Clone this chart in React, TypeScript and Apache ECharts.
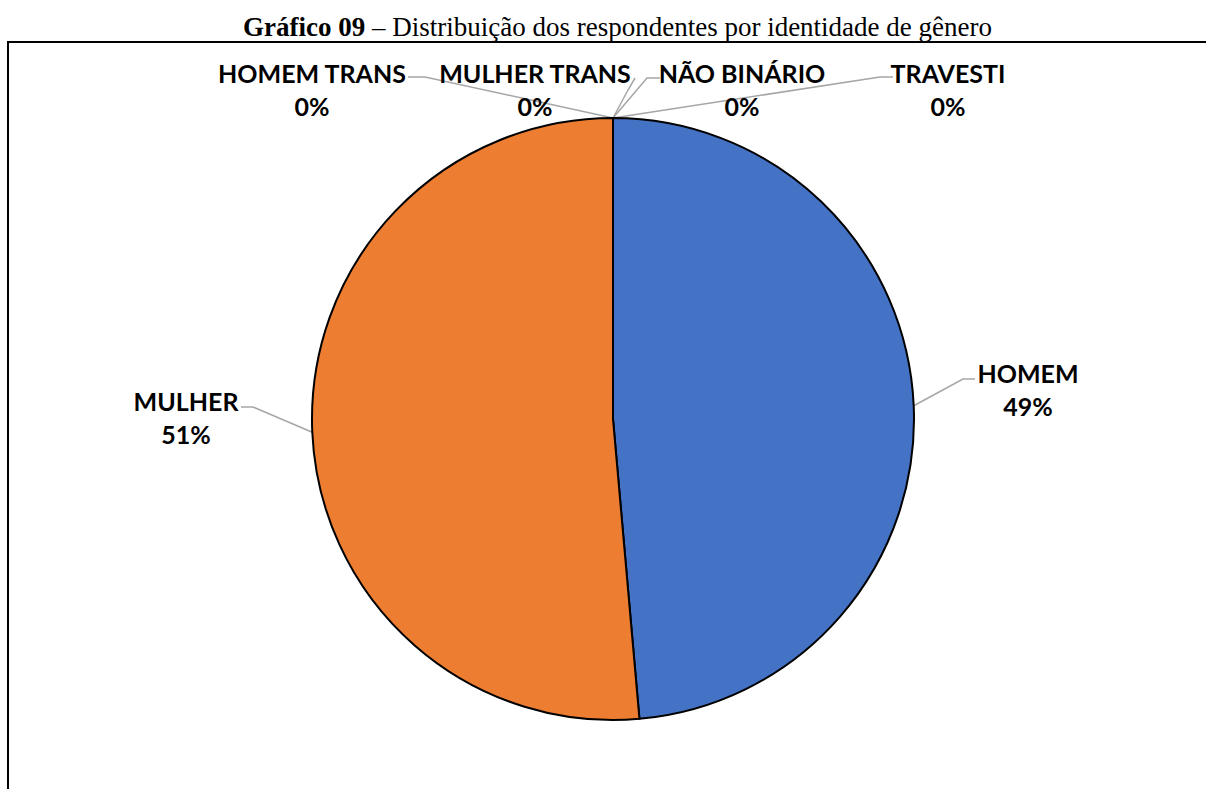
import React, { useEffect, useRef } from "react";
import * as echarts from "echarts";

const titleBold = "Gráfico 09";
const titleRest = " – Distribuição dos respondentes por identidade de gênero";

const categories = ["HOMEM", "MULHER", "HOMEM TRANS", "MULHER TRANS", "NÃO BINÁRIO", "TRAVESTI"];
const values = [48.6, 51.4, 0, 0, 0, 0];
const colors = ["#4472C4", "#ED7D31", "#A5A5A5", "#FFC000", "#5B9BD5", "#70AD47"];

// label placement (layout only): text centre and leader-line bend/end points
const labelPlacement = [
  { x: 1028, y: 389, bend: [963, 379], end: [975, 379] },
  { x: 186, y: 417, bend: [253, 407], end: [241, 407] },
  { x: 312, y: 89, bend: [425, 77], end: [408, 77] },
  { x: 535, y: 89, bend: [628, 90], end: [635, 78] },
  { x: 742, y: 89, bend: [647, 78], end: [660, 78] },
  { x: 948, y: 89, bend: [880, 77], end: [893, 77] },
];

export default function App() {
  const ref = useRef<HTMLDivElement>(null);
  useEffect(() => {
    document.body.style.margin = "0";
    const chart = echarts.init(ref.current!, undefined, { renderer: "svg" });
    chart.setOption({
      animation: false,
      backgroundColor: "#ffffff",
      title: {
        text: `{b|${titleBold}}{r|${titleRest}}`,
        left: 243,
        top: 12,
        padding: 0,
        textStyle: {
          rich: {
            b: { fontFamily: "Liberation Serif", fontWeight: "bold", fontSize: 27, color: "#000", lineHeight: 30 },
            r: { fontFamily: "Liberation Serif", fontWeight: "normal", fontSize: 27, color: "#000", lineHeight: 30 },
          },
        },
      },
      graphic: [
        {
          type: "polyline",
          shape: { points: [[1210, 42], [8, 42], [8, 795]] },
          style: { stroke: "#000", lineWidth: 2, fill: "none" },
          silent: true,
        },
      ],
      series: [
        {
          type: "pie",
          center: [613, 419],
          radius: 301,
          startAngle: 90,
          clockwise: true,
          avoidLabelOverlap: false,
          stillShowZeroSum: true,
          minShowLabelAngle: 0,
          itemStyle: { borderColor: "#000", borderWidth: 2 },
          label: {
            show: true,
            position: "outside",
            formatter: (p: any) => `${p.name}\n${Math.round(p.percent)}%`,
            fontFamily: "Lato",
            fontWeight: "bold",
            fontSize: 25,
            lineHeight: 33,
            color: "#000",
            align: "center",
          },
          labelLine: { show: true, lineStyle: { color: "#A6A6A6", width: 1.5 } },
          labelLayout: (params: any) => {
            const pl = labelPlacement[params.dataIndex];
            const start = params.labelLinePoints ? params.labelLinePoints[0] : pl.bend;
            return {
              x: pl.x,
              y: pl.y,
              align: "center",
              verticalAlign: "middle",
              labelLinePoints: [start, pl.bend, pl.end],
            };
          },
          data: categories.map((c, i) => ({ name: c, value: values[i], itemStyle: { color: colors[i] } })),
        },
      ],
    });
    return () => chart.dispose();
  }, []);
  return <div ref={ref} style={{ position: "absolute", left: 0, top: 0, width: 1206, height: 789 }} />;
}
